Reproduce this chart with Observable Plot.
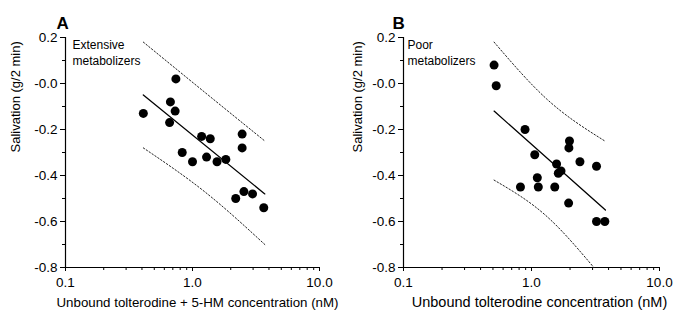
<!DOCTYPE html>
<html>
<head>
<meta charset="utf-8">
<script src="https://cdn.jsdelivr.net/npm/d3@7"></script>
<script src="https://cdn.jsdelivr.net/npm/@observablehq/plot@0.6"></script>
<style>
  html, body { margin: 0; padding: 0; background: #fff; }
  #wrap { position: relative; width: 673px; height: 318px; overflow: hidden; background: #fff; }
  #wrap > div { position: absolute; top: 0; }
</style>
</head>
<body>
<div id="wrap"><div id="pa" style="left:0"></div><div id="pb" style="left:338px"></div></div>
<script>
// ---- Data ----
const yTicks = [0.2, 0, -0.2, -0.4, -0.6, -0.8];
const yTickLabels = ["0.2", "-0.0", "-0.2", "-0.4", "-0.6", "-0.8"];
const yMinorTicks = [0.1, -0.1, -0.3, -0.5, -0.7];
const xTicks = [0.1, 1, 10];
const xTickLabels = ["0.1", "1.0", "10.0"];
const xMinorTicks = [0.2, 0.3, 0.4, 0.5, 0.6, 0.7, 0.8, 0.9, 2, 3, 4, 5, 6, 7, 8, 9];

// Panel A: extensive metabolizers
const aConc = [0.41, 0.74, 0.67, 0.73, 0.66, 0.83, 1.00, 1.18, 1.38, 1.29, 1.56, 1.83, 2.46, 2.46, 2.19, 2.54, 2.97, 3.64];
const aSal  = [-0.13, 0.02, -0.08, -0.12, -0.17, -0.30, -0.34, -0.23, -0.24, -0.32, -0.34, -0.33, -0.22, -0.28, -0.50, -0.47, -0.48, -0.54];
const aFitConc = [0.41, 3.71];
const aFitSal = [-0.05, -0.48];
const aUpperConc = [0.41, 1.47, 3.71];
const aUpperSal = [0.18, -0.07, -0.25];
const aLowerConc = [0.41, 1.31, 3.71];
const aLowerSal = [-0.28, -0.48, -0.70];

// Panel B: poor metabolizers
const bConc = [0.51, 0.53, 0.89, 1.06, 1.11, 1.13, 0.82, 1.57, 1.62, 1.70, 1.52, 1.98, 1.96, 2.39, 1.95, 3.22, 3.22, 3.74];
const bSal  = [0.08, -0.01, -0.20, -0.31, -0.41, -0.45, -0.45, -0.35, -0.39, -0.38, -0.45, -0.25, -0.28, -0.34, -0.52, -0.36, -0.60, -0.60];
const bFitConc = [0.51, 3.78];
const bFitSal = [-0.12, -0.55];
const bUpperConc = [0.51, 1.33, 3.74];
const bUpperSal = [0.18, -0.07, -0.25];
const bLowerConc = [0.51, 1.33, 3.07];
const bLowerSal = [-0.42, -0.58, -0.80];

const zip = (xs, ys) => xs.map((x, i) => ({x, y: ys[i]}));

function panel(cfg) {
  const pts = zip(cfg.conc, cfg.sal);
  return Plot.plot({
    width: cfg.width,
    height: 318,
    marginLeft: 65,
    marginRight: cfg.marginRight,
    marginTop: 37,
    marginBottom: 51,
    style: {fontFamily: "'Liberation Sans', Arial, sans-serif", fontSize: "13px", background: "transparent", color: "#000", overflow: "visible"},
    x: {type: "log", domain: [0.1, 10], axis: null},
    y: {domain: [-0.8, 0.2], axis: null},
    marks: [
      Plot.ruleX([0.1], {y1: -0.8, y2: 0.2, stroke: "#000", strokeWidth: 1.2}),
      Plot.ruleY([-0.8], {x1: 0.1, x2: 10, stroke: "#000", strokeWidth: 1.2}),
      Plot.axisY(yTicks, {tickSize: 5, tickPadding: 3, fontSize: 13.5, label: null,
        tickFormat: d => yTickLabels[yTicks.indexOf(d)]}),
      Plot.axisY(yMinorTicks, {tickSize: 3, tickFormat: () => "", label: null}),
      Plot.axisX(xTicks, {tickSize: 4, tickPadding: 6, fontSize: 13.5, label: null,
        tickFormat: d => xTickLabels[xTicks.indexOf(d)]}),
      Plot.axisX(xMinorTicks, {tickSize: 3, tickFormat: () => "", label: null}),
      Plot.text([cfg.xTitle], {frameAnchor: "bottom", dy: 39, dx: cfg.xTitleDx, fontSize: cfg.xTitleSize, text: d => d}),
      Plot.text([cfg.yTitle], {frameAnchor: "left", dx: cfg.yTitleDx, rotate: -90, fontSize: 13, text: d => d}),
      Plot.text([cfg.letter], {frameAnchor: "top-left", dx: cfg.letterDx, dy: -21, textAnchor: "start", fontSize: 17, fontWeight: "bold", text: d => d}),
      Plot.text([cfg.note], {frameAnchor: "top-left", dx: cfg.noteDx, dy: 0, textAnchor: "start", lineAnchor: "top", lineHeight: 1.33, fontSize: 12, text: d => d}),
      Plot.line(zip(cfg.upperConc, cfg.upperSal), {x: "x", y: "y", stroke: "#222", strokeWidth: 1, strokeDasharray: "1.5,2", curve: "monotone-x"}),
      Plot.line(zip(cfg.lowerConc, cfg.lowerSal), {x: "x", y: "y", stroke: "#222", strokeWidth: 1, strokeDasharray: "1.5,2", curve: "monotone-x"}),
      Plot.line(zip(cfg.fitConc, cfg.fitSal), {x: "x", y: "y", stroke: "#000", strokeWidth: 1.3}),
      Plot.dot(pts, {x: "x", y: "y", r: 4.5, fill: "#000", stroke: "none"})
    ]
  });
}

document.getElementById("pa").append(panel({
  width: 340, marginRight: 21,
  conc: aConc, sal: aSal,
  fitConc: aFitConc, fitSal: aFitSal,
  upperConc: aUpperConc, upperSal: aUpperSal,
  lowerConc: aLowerConc, lowerSal: aLowerSal,
  xTitle: "Unbound tolterodine + 5-HM concentration (nM)", xTitleDx: 5, xTitleSize: 13.3,
  yTitle: "Salivation (g/2 min)", yTitleDx: -50,
  letter: "A", letterDx: -9,
  note: "Extensive\nmetabolizers", noteDx: 7
}));

document.getElementById("pb").append(panel({
  width: 335, marginRight: 14,
  conc: bConc, sal: bSal,
  fitConc: bFitConc, fitSal: bFitSal,
  upperConc: bUpperConc, upperSal: bUpperSal,
  lowerConc: bLowerConc, lowerSal: bLowerSal,
  xTitle: "Unbound tolterodine concentration (nM)", xTitleDx: 8, xTitleSize: 14.5,
  yTitle: "Salivation (g/2 min)", yTitleDx: -46,
  letter: "B", letterDx: -11,
  note: "Poor\nmetabolizers", noteDx: 4
}));
</script>
</body>
</html>
